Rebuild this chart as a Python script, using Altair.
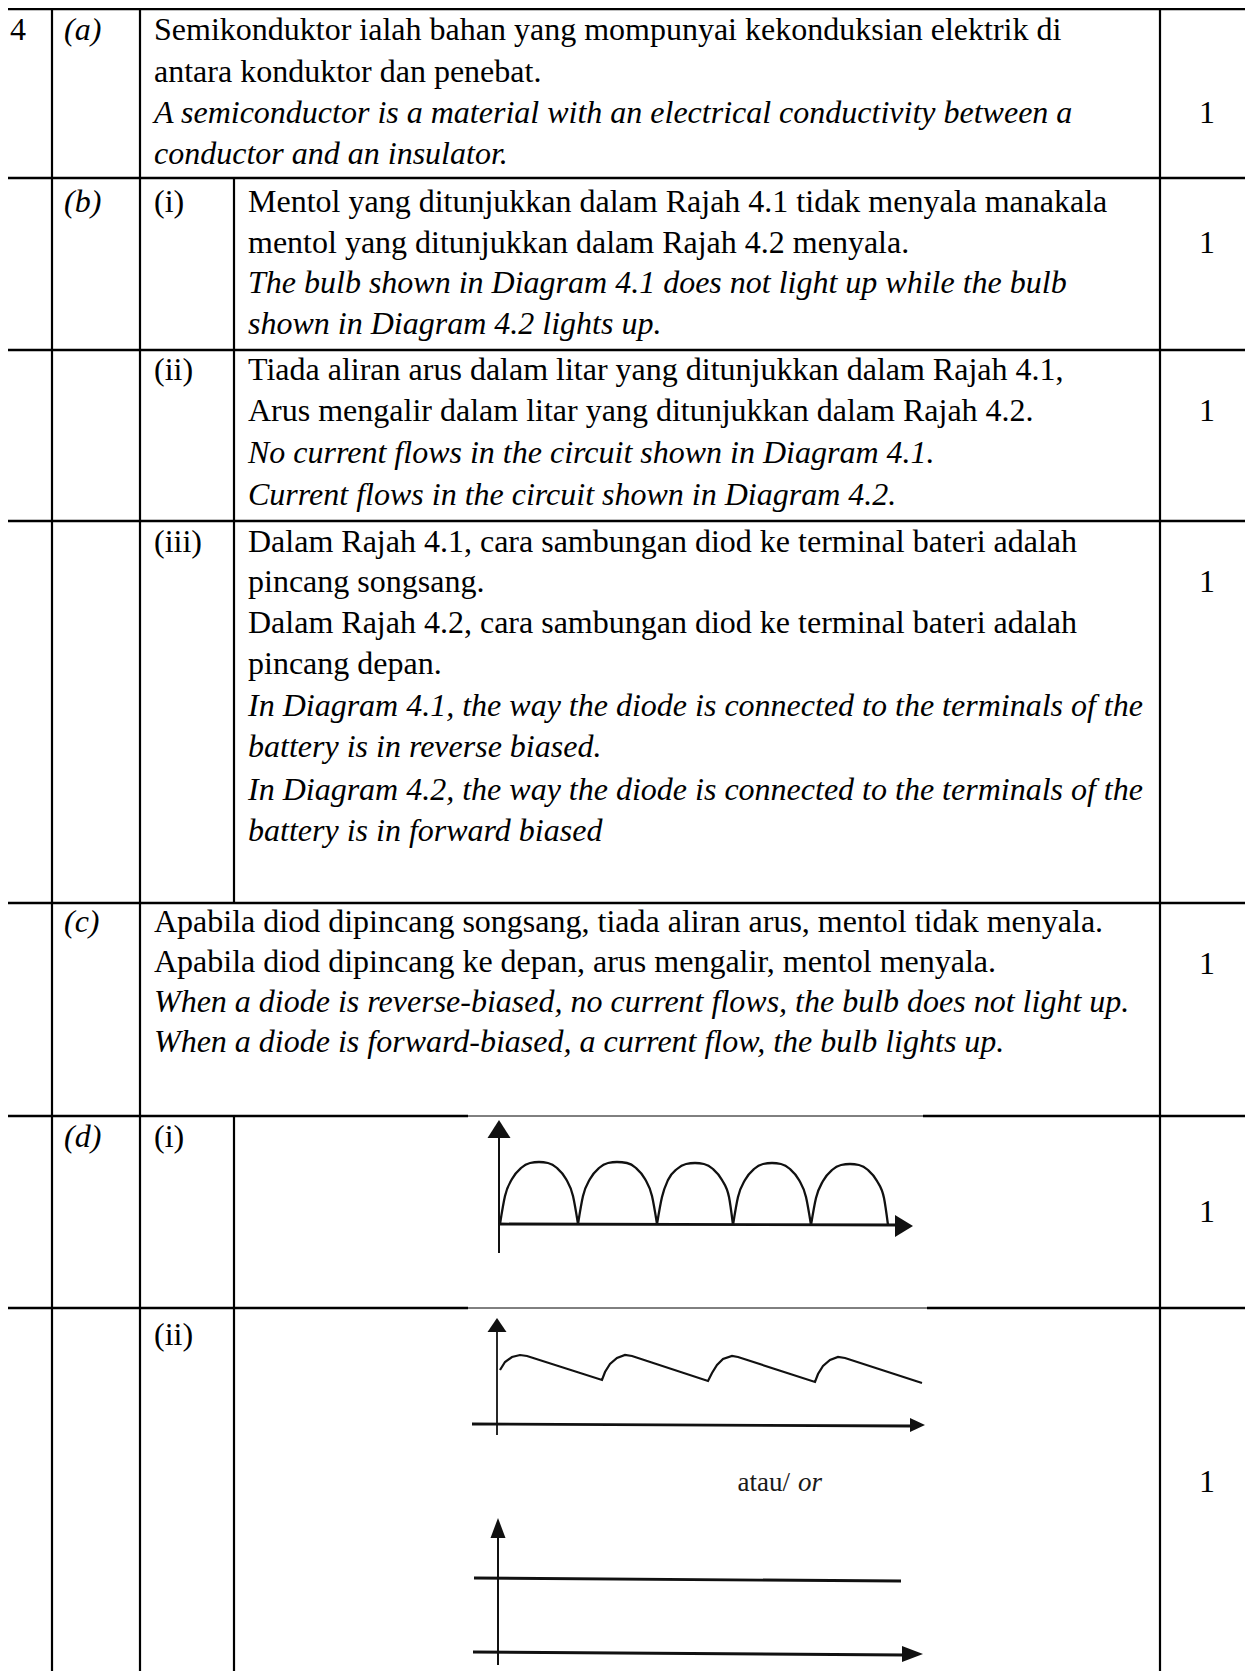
import altair as alt
import pandas as pd

FONT = "Liberation Serif"
FS = 32
INK = "#111111"
W, H = 1237, 1663           # plot area (page adds an 8px margin)
X_END, Y_END = 1253, 1679   # reference picture size

# ---------------- table grid (reference pixel units) ----------------
row_lines = [9, 178, 350, 521, 903, 1116, 1308]
col_lines = [6, 52, 140, 1160]
sub_col = 234
sub_col_spans = [(178, 903), (1116, 1679)]
image_gaps = {1116: (468, 923), 1308: (468, 927)}

# ---------------- text content ----------------
question = "4"
parts = ["(a)", "(b)", "(c)", "(d)"]
sub_b = ["(i)", "(ii)", "(iii)"]
sub_d = ["(i)", "(ii)"]
mark_values = ["1", "1", "1", "1", "1", "1", "1"]

text_a = [
    "Semikonduktor ialah bahan yang mompunyai kekonduksian elektrik di",
    "antara konduktor dan penebat.",
    "A semiconductor is a material with an electrical conductivity between a",
    "conductor and an insulator.",
]
italic_a = [False, False, True, True]

text_b1 = [
    "Mentol yang ditunjukkan dalam Rajah 4.1 tidak menyala manakala",
    "mentol yang ditunjukkan dalam Rajah 4.2 menyala.",
    "The bulb shown in Diagram 4.1 does not light up while the bulb",
    "shown in  Diagram 4.2 lights up.",
]
italic_b1 = [False, False, True, True]

text_b2 = [
    "Tiada aliran arus dalam litar yang ditunjukkan dalam Rajah 4.1,",
    "Arus mengalir dalam litar yang ditunjukkan dalam Rajah 4.2.",
    "No current flows in the circuit shown in Diagram 4.1.",
    "Current flows in the circuit shown in Diagram 4.2.",
]
italic_b2 = [False, False, True, True]

text_b3 = [
    "Dalam Rajah 4.1, cara sambungan diod ke terminal bateri adalah",
    "pincang songsang.",
    "Dalam Rajah 4.2, cara sambungan diod ke terminal bateri adalah",
    "pincang depan.",
    "In Diagram 4.1, the way the diode is connected to the terminals of the",
    "battery is in reverse biased.",
    "In Diagram 4.2, the way the diode is connected to the terminals of the",
    "battery is in forward biased",
]
italic_b3 = [False, False, False, False, True, True, True, True]

text_c = [
    "Apabila diod dipincang songsang, tiada aliran arus, mentol tidak menyala.",
    "Apabila diod dipincang ke depan, arus mengalir, mentol menyala.",
    "When a diode is reverse-biased, no current flows, the bulb does not light up.",
    "When a diode is forward-biased, a current flow, the bulb lights up.",
]
italic_c = [False, False, True, True]

or_word = "atau/"
or_word_en = "or"

# ---------------- layout of text (baselines) ----------------
base_a = [40, 82, 123, 164]
base_b1 = [212, 253, 293, 334]
base_b2 = [380, 421, 463, 505]
base_b3 = [552, 592, 633, 674, 716, 757, 800, 841]
base_c = [932, 972, 1012, 1052]
mark_base = [123, 253, 421, 592, 974, 1222, 1492]

# ---------------- diagram (d)(i): full-wave rectified ----------------
arch_1_x = [500, 505, 512, 521, 530, 539, 548, 557, 566, 573, 578]
arch_1_y = [1224, 1196, 1179, 1168, 1163, 1162, 1163, 1168, 1179, 1196, 1224]
arch_2_x = [578, 583, 590, 599, 608, 617, 627, 636, 645, 652, 657]
arch_2_y = [1224, 1196, 1179, 1168, 1163, 1162, 1163, 1168, 1179, 1196, 1224]
arch_3_x = [657, 662, 668, 677, 686, 695, 704, 713, 722, 729, 733]
arch_3_y = [1224, 1197, 1180, 1169, 1164, 1163, 1164, 1169, 1180, 1197, 1225]
arch_4_x = [733, 738, 745, 754, 763, 772, 781, 790, 799, 806, 811]
arch_4_y = [1225, 1197, 1180, 1169, 1164, 1163, 1164, 1169, 1180, 1197, 1225]
arch_5_x = [811, 816, 823, 832, 841, 850, 859, 868, 877, 884, 888]
arch_5_y = [1225, 1198, 1181, 1170, 1165, 1164, 1165, 1170, 1181, 1198, 1225]

# ---------------- diagram (d)(ii): smoothed ripple ----------------
ripple_x = [500, 505, 512, 520, 527, 602, 605, 610, 617, 625, 632, 708, 712, 717,
            723, 732, 738, 815, 818, 823, 830, 838, 845, 922]
ripple_y = [1370, 1362, 1357, 1355, 1356, 1380, 1372, 1364, 1358, 1355, 1356, 1381,
            1373, 1365, 1359, 1356, 1357, 1382, 1374, 1366, 1360, 1357, 1358, 1383]

# axis strokes of the small diagrams: (x, y, x2, y2, width)
diagram_axes = [
    (499, 1130, 499, 1253, 2.0), (499, 1224, 898, 1225, 2.8),          # (d)(i)
    (497, 1326, 497, 1435, 1.8), (472, 1424, 912, 1426, 2.8),          # (d)(ii) top
    (498, 1530, 498, 1665, 2.0), (474, 1578, 901, 1581, 2.8),          # (d)(ii) bottom
    (473, 1652, 905, 1655, 2.8),
]
# arrowheads: (x, y, path, size)
arrows = [
    (499, 1129, "M-1,0.78L0,-0.78L1,0.78Z", 529),
    (904, 1226, "M-0.82,-1L0.82,0L-0.82,1Z", 484),
    (497, 1325, "M-1,0.74L0,-0.74L1,0.74Z", 361),
    (917.5, 1425, "M-1,-0.93L1,0L-1,0.93Z", 225),
    (498, 1528, "M-0.75,1L0,-1L0.75,1Z", 400),
    (912.5, 1654, "M-1,-0.76L1,0L-1,0.76Z", 441),
]

# ================= build tables =================
xs = alt.Scale(domain=[8, 8 + W], range=[0, W], nice=False, zero=False)
ys = alt.Scale(domain=[8, 8 + H], range=[0, H], nice=False, zero=False)

def X(f="x"):
    return alt.X(f"{f}:Q", scale=xs, axis=None)

def Y(f="y"):
    return alt.Y(f"{f}:Q", scale=ys, axis=None)

h_rows = []
for yy in row_lines:
    if yy in image_gaps:
        a, b = image_gaps[yy]
        h_rows += [dict(x=6, x2=a, y=yy, w=2.6), dict(x=b, x2=X_END, y=yy, w=2.6),
                   dict(x=a, x2=b, y=yy, w=1.0)]
    else:
        h_rows.append(dict(x=6, x2=X_END, y=yy, w=2.6))
h_df = pd.DataFrame(h_rows)

v_rows = [dict(x=c, y=9, y2=Y_END, w=2.2) for c in col_lines]
v_rows += [dict(x=sub_col, y=a, y2=b, w=2.2) for a, b in sub_col_spans]
v_df = pd.DataFrame(v_rows)

txt = []
def add_block(lines, italics, bases, x0):
    for t, it, b in zip(lines, italics, bases):
        txt.append(dict(x=x0, y=b, text=t, it=it))

add_block(text_a, italic_a, base_a, 154)
add_block(text_b1, italic_b1, base_b1, 248)
add_block(text_b2, italic_b2, base_b2, 248)
add_block(text_b3, italic_b3, base_b3, 248)
add_block(text_c, italic_c, base_c, 154)
add_block(parts, [True] * 4, [40, 212, 932, 1147], 64)
add_block(sub_b, [False] * 3, [212, 380, 552], 154)
add_block(sub_d, [False] * 2, [1147, 1345], 154)
txt_df = pd.DataFrame(txt)

center_df = pd.DataFrame(
    [dict(x=1207, y=b, text=m) for m, b in zip(mark_values, mark_base)]
    + [dict(x=18, y=40, text=question)]
)

arches = []
for k, (ax, ay) in enumerate([(arch_1_x, arch_1_y), (arch_2_x, arch_2_y), (arch_3_x, arch_3_y),
                               (arch_4_x, arch_4_y), (arch_5_x, arch_5_y)]):
    for i, (px, py) in enumerate(zip(ax, ay)):
        arches.append(dict(x=px, y=py, arch=k, i=i))
arch_df = pd.DataFrame(arches)
ripple_df = pd.DataFrame(dict(x=ripple_x, y=ripple_y, i=list(range(len(ripple_x)))))
axes_df = pd.DataFrame(diagram_axes, columns=["x", "y", "x2", "y2", "w"])
arrow_df = pd.DataFrame(arrows, columns=["x", "y", "shape", "size"])
or_df = pd.DataFrame([dict(x=790, y=1491, text=or_word, it=False),
                      dict(x=798, y=1491, text=or_word_en, it=True)])

# ================= layers =================
hrules = alt.Chart(h_df).mark_rule(color="black").encode(
    x=X(), x2="x2:Q", y=Y(), strokeWidth=alt.StrokeWidth("w:Q", scale=None))
vrules = alt.Chart(v_df).mark_rule(color="black").encode(
    x=X(), y=Y(), y2="y2:Q", strokeWidth=alt.StrokeWidth("w:Q", scale=None))

text_norm = alt.Chart(txt_df).transform_filter("!datum.it").mark_text(
    align="left", baseline="alphabetic", font=FONT, fontSize=FS, color="black"
).encode(x=X(), y=Y(), text="text:N")
text_ital = alt.Chart(txt_df).transform_filter("datum.it").mark_text(
    align="left", baseline="alphabetic", font=FONT, fontSize=FS, fontStyle="italic", color="black"
).encode(x=X(), y=Y(), text="text:N")
text_center = alt.Chart(center_df).mark_text(
    align="center", baseline="alphabetic", font=FONT, fontSize=FS, color="black"
).encode(x=X(), y=Y(), text="text:N")

or_norm = alt.Chart(or_df).transform_filter("!datum.it").mark_text(
    align="right", baseline="alphabetic", font=FONT, fontSize=27, color="#1a1a1a"
).encode(x=X(), y=Y(), text="text:N")
or_ital = alt.Chart(or_df).transform_filter("datum.it").mark_text(
    align="left", baseline="alphabetic", font=FONT, fontSize=27, fontStyle="italic", color="#1a1a1a"
).encode(x=X(), y=Y(), text="text:N")

arch_line = alt.Chart(arch_df).mark_line(color=INK, strokeWidth=2.3, interpolate="monotone").encode(
    x=X(), y=Y(), detail="arch:N", order="i:Q")
ripple_line = alt.Chart(ripple_df).mark_line(color=INK, strokeWidth=2.2).encode(
    x=X(), y=Y(), order="i:Q")
axes_lines = alt.Chart(axes_df).mark_rule(color=INK).encode(
    x=X(), y=Y(), x2="x2:Q", y2="y2:Q", strokeWidth=alt.StrokeWidth("w:Q", scale=None))
arrow_pts = alt.Chart(arrow_df).mark_point(filled=True, color=INK, opacity=1, strokeWidth=0).encode(
    x=X(), y=Y(), shape=alt.Shape("shape:N", scale=None), size=alt.Size("size:Q", scale=None))

chart = alt.layer(
    hrules, vrules, text_norm, text_ital, text_center, or_norm, or_ital,
    axes_lines, arch_line, ripple_line, arrow_pts,
).properties(
    width=W, height=H, padding=0, autosize=alt.AutoSizeParams(type="none"),
    background="white",
).configure_view(stroke=None)

chart.save("out.html", embed_options={"renderer": "svg", "actions": False})
